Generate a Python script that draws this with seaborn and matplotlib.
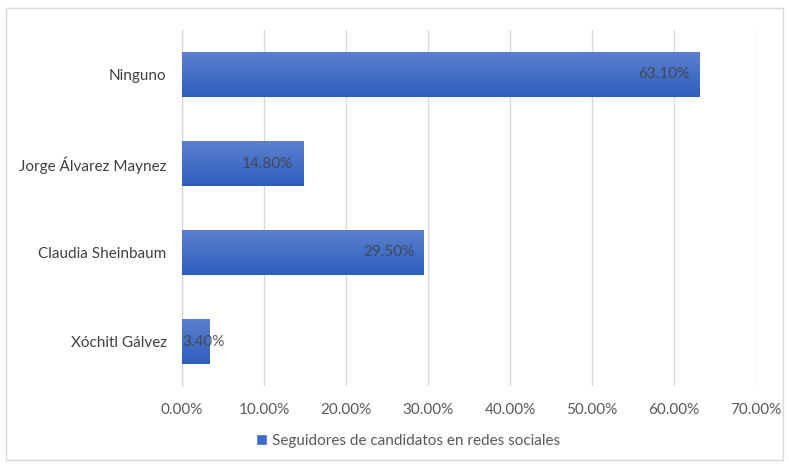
import matplotlib
matplotlib.use("Agg")
import matplotlib.pyplot as plt
import seaborn as sns
import numpy as np
import pandas as pd
from matplotlib.patches import Rectangle
from matplotlib.colors import LinearSegmentedColormap

categories = ["Ninguno", "Jorge Álvarez Maynez", "Claudia Sheinbaum", "Xóchitl Gálvez"]
values = [63.10, 14.80, 29.50, 3.40]
xticks = [0, 10, 20, 30, 40, 50, 60, 70]
series_name = "Seguidores de candidatos en redes sociales"

sns.set_theme(style="white")
plt.rcParams['font.family'] = ['Lato', 'DejaVu Sans']

df = pd.DataFrame({"cat": categories, "val": values})

fig = plt.figure(figsize=(7.89, 4.66), dpi=100)
ax = fig.add_axes([182/789, 1-386/466, (756-182)/789, (386-30)/466])

sns.barplot(data=df, y="cat", x="val", orient="h", color="#4472C4", width=0.5, ax=ax, zorder=3)

cmap = LinearSegmentedColormap.from_list("g", ["#5C80CE", "#2E5EBD"])
grad = np.linspace(0, 1, 256).reshape(-1, 1)
for p in ax.patches:
    x0, y0 = p.get_x(), p.get_y()
    w, h = p.get_width(), p.get_height()
    p.set_facecolor("none")
    p.set_edgecolor("none")
    im = ax.imshow(grad, cmap=cmap, aspect="auto", extent=[x0, x0 + w, y0 + h, y0],
                   zorder=3, interpolation="bilinear")
    im.set_clip_path(p)

for i, v in enumerate(values):
    if v < 6:
        ax.text(0.1, i, f"{v:.2f}%", ha="left", va="center", fontsize=11,
                color="#404040", alpha=0.85, zorder=4)
    else:
        ax.text(v - 1.2, i, f"{v:.2f}%", ha="right", va="center", fontsize=11,
                color="#404040", alpha=0.85, zorder=4)

ax.set_xlim(0, 70)
ax.set_ylim(3.5, -0.5)
ax.set_xticks(xticks)
ax.set_xticklabels([f"{t:.2f}%" for t in xticks], fontsize=11, color="#595959")
ax.tick_params(axis="y", labelsize=11, labelcolor="#404040", length=0, pad=11)
ax.tick_params(axis="x", length=0, pad=12)
ax.set_xlabel("")
ax.set_ylabel("")
ax.grid(axis="x", color="#D9D9D9", linewidth=1, zorder=0)
for s in ["top", "right", "bottom"]:
    ax.spines[s].set_visible(False)
ax.spines["left"].set_color("#D9D9D9")
ax.spines["left"].set_linewidth(1)

fig.legend(handles=[Rectangle((0, 0), 1, 1, facecolor="#3F6BC6")], labels=[series_name],
           loc="center", bbox_to_anchor=(408/789, 1-441/466), frameon=False, fontsize=11,
           handlelength=0.75, handleheight=0.75, handletextpad=0.3, labelcolor="#595959")

fig.patches.append(Rectangle((6/789, 1-460/466), (783-6)/789, (460-8)/466, transform=fig.transFigure,
                             fill=False, edgecolor="#D9D9D9", linewidth=1))

fig.savefig("out.png", dpi=100)
